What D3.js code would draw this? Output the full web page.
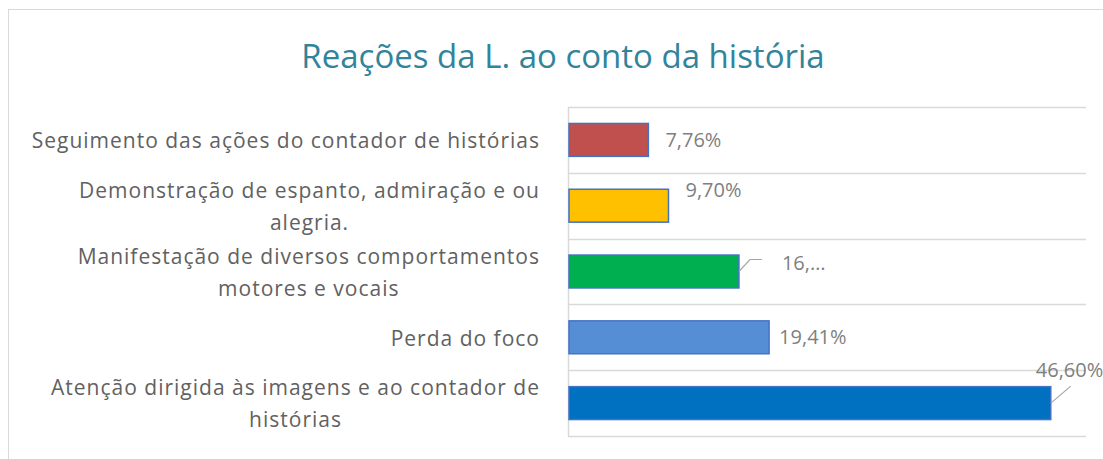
<!DOCTYPE html>
<html>
<head>
<meta charset="utf-8">
<script src="https://cdn.jsdelivr.net/npm/d3@7"></script>
<style>
  body { margin: 0; background: #fff; }
  svg { display: block; font-family: "Open Sans", sans-serif; }
</style>
</head>
<body>
<svg width="1103" height="459"></svg>
<script>
const title = 'Reações da L. ao conto da história';
const categories = [
  ['Seguimento das ações do contador de histórias'],
  ['Demonstração de espanto, admiração e ou', 'alegria.'],
  ['Manifestação de diversos comportamentos', 'motores e vocais'],
  ['Perda do foco'],
  ['Atenção dirigida às imagens e ao contador de', 'histórias']
];
const values = [7.76, 9.70, 16.50, 19.41, 46.60];
const labels = ['7,76%', '9,70%', '16,…', '19,41%', '46,60%'];
const colors = ['#c0504d', '#ffc000', '#00b050', '#558ed5', '#0070c0'];

const svg = d3.select('svg');
const margin = { top: 107, right: 17, bottom: 23, left: 568 };
const width = +svg.attr('width');
const height = +svg.attr('height');
const chartWidth = width - margin.left - margin.right;
const chartHeight = height - margin.top - margin.bottom;

// outer frame
svg.append('rect')
  .attr('x', 8.5).attr('y', 9.5)
  .attr('width', 1200).attr('height', 600)
  .attr('fill', 'none').attr('stroke', '#d9d9d9');

svg.append('text')
  .attr('x', 563).attr('y', 68)
  .attr('text-anchor', 'middle')
  .attr('font-size', 33)
  .attr('fill', '#31849b')
  .text(title);

const x = d3.scaleLinear().domain([0, 50]).range([0, chartWidth]);
const y = d3.scaleBand().domain(d3.range(values.length)).range([0, chartHeight]).paddingInner(0.5).paddingOuter(0.25);

const g = svg.append('g').attr('transform', `translate(${margin.left},${margin.top})`);

// band gridlines
const step = y.step();
g.selectAll('.grid')
  .data(d3.range(values.length + 1))
  .enter()
  .append('line')
  .attr('x1', 0).attr('x2', chartWidth)
  .attr('y1', (d) => Math.round(d * step) + 0.5)
  .attr('y2', (d) => Math.round(d * step) + 0.5)
  .attr('stroke', '#d9d9d9').attr('stroke-width', 1.5);

g.append('line')
  .attr('x1', 0.5).attr('x2', 0.5)
  .attr('y1', 0).attr('y2', chartHeight)
  .attr('stroke', '#d9d9d9').attr('stroke-width', 1.5);

// bars
g.selectAll('.bar')
  .data(values)
  .enter()
  .append('rect')
  .attr('x', 1)
  .attr('y', (d, i) => y(i))
  .attr('width', (d) => x(d) - 1)
  .attr('height', y.bandwidth())
  .attr('fill', (d, i) => colors[i])
  .attr('stroke', '#4472c4').attr('stroke-width', 1.5);

// category labels (wrapped lines centred on each other, block right-aligned)
const lineH = 32;
categories.forEach((lines, i) => {
  const cy = margin.top + y(i) + y.bandwidth() / 2 + 1;
  const t = svg.append('g');
  const texts = lines.map((ln, j) => t.append('text')
    .attr('y', cy + (j - (lines.length - 1) / 2) * lineH)
    .attr('dy', '0.35em')
    .attr('font-size', 21)
    .attr('letter-spacing', 1)
    .attr('fill', '#616161')
    .attr('text-anchor', 'middle')
    .text(ln));
  const maxW = d3.max(texts, (tx) => tx.node().getComputedTextLength());
  texts.forEach((tx) => tx.attr('x', 540 - maxW / 2));
});

// data labels
const labelShift = [[17, 0], [17, -16], [43, -9], [10, 0], [-15, -33]];
values.forEach((v, i) => {
  const bx = x(v);
  const cy = y(i) + y.bandwidth() / 2;
  const lx = bx + labelShift[i][0];
  const ly = cy + labelShift[i][1];
  g.append('text')
    .attr('x', lx).attr('y', ly)
    .attr('dy', '0.35em')
    .attr('font-size', 20)
    .attr('fill', '#7f7f7f')
    .text(labels[i]);
  if (i === 2) {
    g.append('polyline')
      .attr('points', `${bx},${cy} ${bx + 11},${cy - 12} ${bx + 23},${cy - 12}`)
      .attr('fill', 'none').attr('stroke', '#a6a6a6').attr('stroke-width', 1.2);
  }
  if (i === 4) {
    g.append('line')
      .attr('x1', bx).attr('y1', cy)
      .attr('x2', bx + 20).attr('y2', cy - 17)
      .attr('stroke', '#a6a6a6').attr('stroke-width', 1.2);
  }
});
</script>
</body>
</html>
